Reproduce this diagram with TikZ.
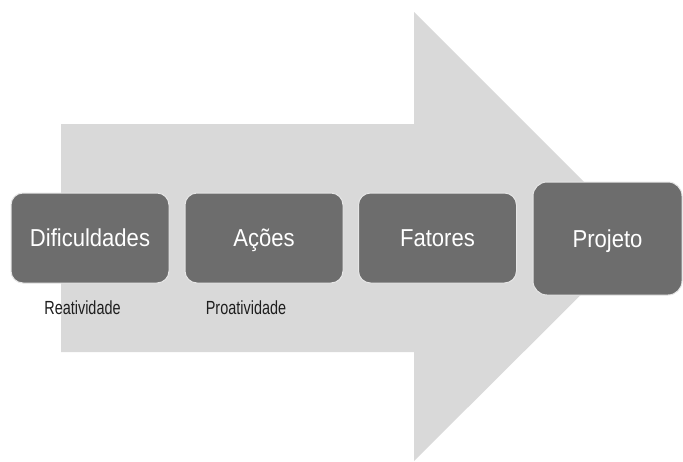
\documentclass[tikz,border=0pt]{standalone}
\usepackage{fontspec}
\setmainfont{Liberation Sans}
\newfontfamily\bigfont[FakeStretch=0.9]{Liberation Sans}
\newfontfamily\smallfont[FakeStretch=0.76]{Liberation Sans}
\definecolor{arrowgray}{HTML}{D9D9D9}
\definecolor{boxgray}{HTML}{6D6D6D}
\definecolor{edgegray}{HTML}{E6E6E6}
\definecolor{labelgray}{HTML}{1E1E1E}
\tikzset{
  stepbox/.style={draw=edgegray, line width=1pt, fill=boxgray, rounded corners=12pt,
    inner sep=0pt, text=white, font=\bigfont\fontsize{24.5}{28}\selectfont,
    text height=17.5pt, text depth=0pt, minimum width=158pt, minimum height=90pt},
  sublabel/.style={inner sep=0pt, text=labelgray, font=\smallfont\fontsize{19}{22}\selectfont,
    text height=13.6pt, text depth=0pt}
}
\begin{document}
\begin{tikzpicture}[x=1pt,y=-1pt]
\useasboundingbox (0,0) rectangle (683,461);
\fill[white] (0,0) rectangle (683,461);
\fill[arrowgray] (61,124) -- (414,124) -- (414,12) -- (639,237) -- (414,461) -- (414,352) -- (61,352) -- cycle;
\node[stepbox] (dif) at (90,238) {Dificuldades};
\node[stepbox] (aco) at (264,238) {Ações};
\node[stepbox] (fat) at (437.5,238) {Fatores};
\node[stepbox, minimum width=149pt, minimum height=113pt, rounded corners=14pt] (pro) at (607.5,238.5) {Projeto};
\node[sublabel] (rea) at (82.5,307.5) {Reatividade};
\node[sublabel] (pra) at (246,307.5) {Proatividade};
\end{tikzpicture}
\end{document}
